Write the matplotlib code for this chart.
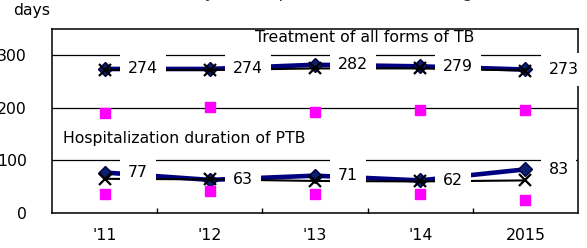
import numpy as np
import matplotlib
matplotlib.use('Agg')
import matplotlib.pyplot as plt
from matplotlib.path import Path

# ---- data ----
years = ["'11", "'12", "'13", "'14", "2015"]
treat_median = [274, 274, 282, 279, 273]
treat_x = [272, 272, 275, 275, 271]
treat_pink = [190, 202, 192, 196, 196]
hosp_median = [77, 63, 71, 62, 83]
hosp_x = [65, 64, 61, 60, 62]
hosp_pink = [36, 41, 36, 37, 24]
y_ticks = [0, 100, 200, 300]

FS = 11.3
plt.rcParams['font.family'] = ['DejaVu Sans']

fig = plt.figure(figsize=(5.87, 2.48), dpi=100)
W, H = 587, 248
ax = fig.add_axes([52 / W, (H - 213) / H, 526 / W, 184 / H])

x = np.arange(len(years)) + 0.5

NAVY = '#000080'
DIA = '#0a1f6e'
for med, xs, pk in [(treat_median, treat_x, treat_pink),
                    (hosp_median, hosp_x, hosp_pink)]:
    ax.plot(x, med, color=NAVY, lw=3.3, marker='D', ms=7.6,
            mfc=DIA, mec='#000040', mew=1.0, zorder=3, solid_capstyle='butt')
    ax.plot(x, xs, color='black', lw=1.5, marker='x', ms=8.5, mew=1.6,
            zorder=4)
    ax.plot(x, pk, ls='none', marker='s', ms=7, mfc='#ff00ff', mec='#ff00ff',
            zorder=5)


def label_box(x0, y0, width, height, mutation_size):
    px = 0.5 * mutation_size
    py = 0.6 * mutation_size
    x0 -= px
    y0 -= py
    x1 = x0 + width + 2 * px
    y1 = y0 + height + 2 * py
    return Path([(x0, y0), (x1, y0), (x1, y1), (x0, y1), (x0, y0)], closed=True)


for series in (treat_median, hosp_median):
    for xi, v in zip(x, series):
        ax.annotate(str(v), (xi, v), xytext=(16.6, 0), textcoords='offset points',
                    ha='left', va='center', fontsize=FS, color='black',
                    bbox=dict(boxstyle=label_box, fc='white', ec='none'),
                    zorder=6, annotation_clip=False)

ax.text((255 - 52) / 526, (213 - 38) / 184, 'Treatment of all forms of TB',
        transform=ax.transAxes, ha='left', va='center', fontsize=FS, zorder=6)
ax.text((63 - 52) / 526, (213 - 139) / 184, 'Hospitalization duration of PTB',
        transform=ax.transAxes, ha='left', va='center', fontsize=FS, zorder=6)

ax.set_xlim(0, len(years))
ax.set_ylim(0, 350)
ax.set_xticks(x)
ax.set_xticklabels(years, fontsize=FS)
ax.set_xticks(np.arange(1, len(years)), minor=True)
ax.tick_params(axis='x', which='major', length=0, pad=10.5)
ax.tick_params(axis='x', which='minor', direction='in', length=3.6, width=1,
               color='black')
ax.set_yticks(y_ticks)
ax.set_yticklabels([str(t) for t in y_ticks], fontsize=FS)
ax.tick_params(axis='y', length=0, pad=18)
ax.yaxis.grid(True, color='black', lw=0.9)
ax.set_axisbelow(True)
for s in ax.spines.values():
    s.set_color('black')
    s.set_linewidth(1.1)

fig.text(13 / W, 1 - 11 / H, 'days', ha='left', va='center', fontsize=FS)
fig.text(0.505, 1 + 2.5 / H, 'Median Days of Hospitalization and Treating',
         ha='center', va='baseline', fontsize=11.5, color='#333333')

fig.savefig('out.png', dpi=100)
